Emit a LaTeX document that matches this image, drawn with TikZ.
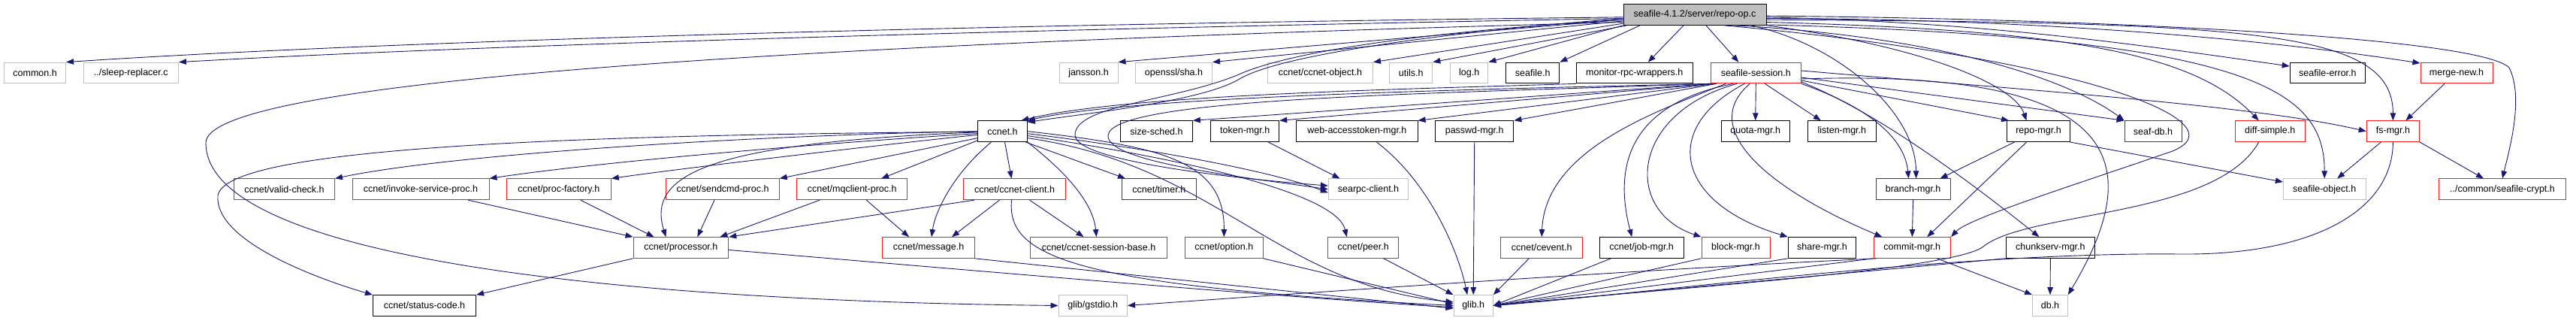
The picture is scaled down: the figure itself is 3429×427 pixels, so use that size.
\documentclass[tikz,border=0pt]{standalone}
\usepackage{fontspec}
\newfontfamily\hdrfont{Liberation Sans}
\usetikzlibrary{arrows.meta}
\definecolor{edgeblue}{HTML}{191970}
\definecolor{boxred}{HTML}{FF1A1A}
\definecolor{boxgray}{HTML}{BFBFBF}
\definecolor{titlegray}{HTML}{BFBFBF}

\begin{document}
\begin{tikzpicture}[x=1pt, y=-1pt,
  hdr/.style={draw, line width=1pt, minimum height=27.7pt, inner xsep=2pt, inner ysep=0pt,
    font={\hdrfont\fontsize{12.5}{14}\selectfont}},
  redhdr/.style={hdr, draw=boxred},
  grayhdr/.style={hdr, draw=boxgray},
  blackhdr/.style={hdr, draw=black},
  darkhdr/.style={hdr, draw=black!75},
  dep/.style={draw=edgeblue, line width=0.9pt, -{Triangle[length=10pt,width=7.5pt]}}]

\useasboundingbox (0,0) rectangle (3429,427);

% row 0
\node[blackhdr, fill=titlegray, minimum width=190pt] (repoop) at (2256,19.5) {seafile-4.1.2/server/repo-op.c};

% row 1
\node[grayhdr, minimum width=82pt] (common) at (46.6,97) {common.h};
\node[grayhdr, minimum width=126.5pt] (sleeprep) at (174.3,97) {../sleep-replacer.c};
\node[grayhdr, minimum width=78pt] (jansson) at (1449,97) {jansson.h};
\node[grayhdr, minimum width=102pt] (sha) at (1562.5,97) {openssl/sha.h};
\node[grayhdr, minimum width=140pt] (ccnetobj) at (1757.5,97) {ccnet/ccnet-object.h};
\node[grayhdr, minimum width=57pt] (utils) at (1878.3,97) {utils.h};
\node[grayhdr, minimum width=50.5pt] (logh) at (1955.7,97) {log.h};
\node[blackhdr, minimum width=71.3pt] (seafileh) at (2040.2,97) {seafile.h};
\node[blackhdr, minimum width=155pt] (monitor) at (2175.8,97) {monitor-rpc-wrappers.h};
\node[redhdr, minimum width=120pt] (session) at (2337.3,97) {seafile-session.h};
\node[blackhdr, minimum width=100.4pt] (seaferr) at (3098.4,97) {seafile-error.h};
\node[redhdr, minimum width=96pt] (merge) at (3270,97) {merge-new.h};

% row 2
\node[blackhdr, minimum width=65.6pt] (ccnet) at (1334.5,174.7) {ccnet.h};
\node[blackhdr, minimum width=95.6pt] (sizesched) at (1539.5,174.7) {size-sched.h};
\node[blackhdr, minimum width=91pt] (token) at (1657.2,174.7) {token-mgr.h};
\node[blackhdr, minimum width=161.3pt] (webtoken) at (1806.4,174.7) {web-accesstoken-mgr.h};
\node[blackhdr, minimum width=104.3pt] (passwd) at (1962.7,174.7) {passwd-mgr.h};
\node[blackhdr, minimum width=91.3pt] (quota) at (2336.7,174.7) {quota-mgr.h};
\node[blackhdr, minimum width=91pt] (listen) at (2451.8,174.7) {listen-mgr.h};
\node[blackhdr, minimum width=83.3pt] (repomgr) at (2713.5,174.7) {repo-mgr.h};
\node[darkhdr, minimum width=76pt] (seafdb) at (2866,174.7) {seaf-db.h};
\node[redhdr, minimum width=92.7pt] (diff) at (3021.7,174.7) {diff-simple.h};
\node[redhdr, minimum width=70.3pt] (fsmgr) at (3185.4,174.7) {fs-mgr.h};

% row 3
\node[redhdr, minimum width=134pt] (valid) at (378.5,251.8) {ccnet/valid-check.h};
\node[redhdr, minimum width=182pt] (invoke) at (560,251.8) {ccnet/invoke-service-proc.h};
\node[redhdr, minimum width=139pt] (procfac) at (743.8,251.8) {ccnet/proc-factory.h};
\node[redhdr, minimum width=150.5pt] (sendcmd) at (962,251.8) {ccnet/sendcmd-proc.h};
\node[redhdr, minimum width=147.2pt] (mqclient) at (1134.2,251.8) {ccnet/mqclient-proc.h};
\node[redhdr, minimum width=135.5pt] (client) at (1350.5,251.8) {ccnet/ccnet-client.h};
\node[darkhdr, minimum width=98.7pt] (timer) at (1542.8,251.8) {ccnet/timer.h};
\node[grayhdr, minimum width=106.3pt] (searpc) at (1821.5,251.8) {searpc-client.h};
\node[darkhdr, minimum width=99pt] (branch) at (2546.6,251.8) {branch-mgr.h};
\node[grayhdr, minimum width=109.7pt] (seafobj) at (3094.2,251.8) {seafile-object.h};
\node[redhdr, minimum width=169.4pt] (crypt) at (3331,251.8) {../common/seafile-crypt.h};

% row 4
\node[redhdr, minimum width=126.7pt] (processor) at (906.4,329.5) {ccnet/processor.h};
\node[redhdr, minimum width=122.4pt] (message) at (1236,329.5) {ccnet/message.h};
\node[redhdr, minimum width=182.5pt] (sessbase) at (1462.5,329.5) {ccnet/ccnet-session-base.h};
\node[redhdr, minimum width=103.7pt] (option) at (1629.3,329.5) {ccnet/option.h};
\node[redhdr, minimum width=94pt] (peer) at (1814.7,329.5) {ccnet/peer.h};
\node[redhdr, minimum width=109pt] (cevent) at (2052.2,329.5) {ccnet/cevent.h};
\node[blackhdr, minimum width=112.4pt] (jobmgr) at (2185.2,329.5) {ccnet/job-mgr.h};
\node[redhdr, minimum width=91pt] (block) at (2310.5,329.5) {block-mgr.h};
\node[blackhdr, minimum width=90.5pt] (share) at (2425.5,329.5) {share-mgr.h};
\node[redhdr, minimum width=102.6pt] (commit) at (2545.3,329.5) {commit-mgr.h};
\node[blackhdr, minimum width=118.7pt] (chunk) at (2729.4,329.5) {chunkserv-mgr.h};

% row 5
\node[blackhdr, minimum width=137.2pt] (status) at (565,406.5) {ccnet/status-code.h};
\node[grayhdr, minimum width=91.5pt] (gstdio) at (1454.8,406.5) {glib/gstdio.h};
\node[grayhdr, minimum width=52.3pt] (glib) at (1961.2,406.5) {glib.h};
\node[grayhdr, minimum width=46.7pt] (db) at (2729,406.5) {db.h};

% includes of repo-op.c
\draw[dep] (repoop.182) .. controls (1300,32) and (500,55) .. (common.north east);
\draw[dep] (repoop.183) .. controls (1300,40) and (600,62) .. (sleeprep.north east);
\draw[dep] (repoop.186) .. controls (1200,55) and (274,100) .. (274,190)
  .. controls (274,340) and (800,400) .. (gstdio.west);
\draw[dep] (repoop.184) -- (jansson.north east);
\draw[dep] (repoop.185) -- (sha.north east);
\draw[dep] (repoop.187) -- (ccnetobj.north east);
\draw[dep] (repoop.189) -- (utils.north east);
\draw[dep] (repoop.south west) -- (logh.north east);
\draw[dep] ([xshift=-73pt]repoop.south) -- (seafileh.north east);
\draw[dep] ([xshift=-15pt]repoop.south) -- ([xshift=18pt]monitor.north);
\draw[dep] ([xshift=15pt]repoop.south) -- ([xshift=-23pt]session.north);
\draw[dep] (repoop.183) .. controls (1900,45) and (1700,75) .. (1650,105)
  .. controls (1600,135) and (1450,150) .. (ccnet.20);
\draw[dep] (repoop.184) .. controls (1850,45) and (1700,75) .. (1647,100)
  .. controls (1560,135) and (1430,140) .. (1431,180)
  .. controls (1432,215) and (1650,238) .. (searpc.175);
\draw[dep] (repoop.358) .. controls (2650,30) and (2850,60) .. (seaferr.170);
\draw[dep] (repoop.357) .. controls (2700,25) and (3000,50) .. (merge.165);
\draw[dep] (repoop.359) .. controls (2800,25) and (3300,50) .. (3340,90)
  .. controls (3360,130) and (3340,200) .. (crypt.north);
\draw[dep] (repoop.356) .. controls (3000,30) and (3185,40) .. (fsmgr.north);
\draw[dep] (repoop.354) .. controls (2750,40) and (2920,70) .. ([xshift=-15pt]diff.north);
\draw[dep] (repoop.352) .. controls (3000,50) and (3094,120) .. (seafobj.north);
\draw[dep] (repoop.345) .. controls (2600,50) and (2760,110) .. (seafdb.north west);
\draw[dep] (repoop.south east) .. controls (2550,60) and (2680,110) .. ([xshift=-16pt]repomgr.north);
\draw[dep] ([xshift=75pt]repoop.south) .. controls (2450,60) and (2550,150) .. ([xshift=4pt]branch.north);
\draw[dep] (repoop.340) .. controls (2800,80) and (3000,170) .. (2880,205)
  .. controls (2780,240) and (2620,290) .. (commit.north east);

% includes of seafile-session.h
\draw[dep] (session.south west) .. controls (1900,120) and (1500,130) .. (ccnet.north east);
\draw[dep] ([xshift=2pt]session.south west) -- (sizesched.north east);
\draw[dep] ([xshift=4pt]session.south west) -- (token.north east);
\draw[dep] ([xshift=6pt]session.south west) -- (webtoken.north east);
\draw[dep] ([xshift=8pt]session.south west) -- (passwd.north east);
\draw[dep] (session.south west) .. controls (1900,125) and (1480,130) .. (1475,180)
  .. controls (1472,215) and (1650,235) .. (searpc.west);
\draw[dep] ([xshift=-40pt]session.south) .. controls (2200,150) and (2057,200) .. (cevent.north);
\draw[dep] ([xshift=-30pt]session.south) .. controls (2160,140) and (2150,230) .. ([xshift=-13pt]jobmgr.north);
\draw[dep] ([xshift=-25pt]session.south) .. controls (2170,150) and (2160,280) .. (block.north west);
\draw[dep] ([xshift=-15pt]session.south) .. controls (2210,170) and (2230,270) .. (share.north west);
\draw[dep] ([xshift=-8pt]session.south) .. controls (2260,170) and (2350,250) .. ([xshift=-40pt]commit.north);
\draw[dep] (session.south) -- (quota.north);
\draw[dep] ([xshift=12pt]session.south) -- ([xshift=-28pt]listen.north);
\draw[dep] (session.south east) .. controls (2480,140) and (2535,180) .. ([xshift=-6pt]branch.north);
\draw[dep] ([yshift=-10pt]session.east) -- (repomgr.160);
\draw[dep] ([yshift=-6pt]session.east) -- (seafdb.north west);
\draw[dep] ([yshift=3pt]session.east) .. controls (2700,120) and (3000,140) .. (fsmgr.west);
\draw[dep] ([yshift=-12pt]session.east) .. controls (2500,150) and (2620,240) .. ([xshift=-15pt]chunk.north);
\draw[dep] ([yshift=-8pt]session.east) .. controls (2850,90) and (2850,230) .. (db.north east);

% monitor-rpc-wrappers.h
\draw[dep] (monitor.south west) .. controls (1900,118) and (1500,125) .. (ccnet.30);

% includes of ccnet.h
\draw[dep] (ccnet.west) .. controls (1000,180) and (600,205) .. (valid.north east);
\draw[dep] (ccnet.185) .. controls (1100,190) and (800,215) .. (invoke.north east);
\draw[dep] (ccnet.188) .. controls (1150,195) and (900,225) .. (procfac.north east);
\draw[dep] (ccnet.182) .. controls (950,190) and (860,230) .. ([xshift=-20pt]processor.north);
\draw[dep] (ccnet.181) .. controls (700,180) and (300,200) .. (290,260)
  .. controls (285,320) and (420,370) .. (status.north west);
\draw[dep] (ccnet.195) -- (sendcmd.north east);
\draw[dep] (ccnet.200) -- ([xshift=39pt]mqclient.north);
\draw[dep] ([xshift=-15pt]ccnet.south) .. controls (1270,230) and (1245,280) .. ([xshift=4pt]message.north);
\draw[dep] ([xshift=3pt]ccnet.south) -- ([xshift=-4pt]client.north);
\draw[dep] (ccnet.south east) .. controls (1420,230) and (1455,270) .. ([xshift=-3pt]sessbase.north);
\draw[dep] (ccnet.335) -- ([xshift=5pt]timer.north west);
\draw[dep] ([yshift=-3pt]ccnet.east) .. controls (1550,200) and (1700,230) .. (searpc.185);
\draw[dep] (ccnet.east) .. controls (1550,195) and (1630,215) .. (option.north);
\draw[dep] (ccnet.350) .. controls (1600,215) and (1780,260) .. ([xshift=-22pt]peer.north);
\draw[dep] (ccnet.345) .. controls (1620,220) and (1700,380) .. (glib.170);

% ccnet sub-headers
\draw[dep] ([xshift=63pt]invoke.south) -- (processor.north west);
\draw[dep] ([xshift=29pt]procfac.south) -- ([xshift=-36pt]processor.north);
\draw[dep] ([xshift=-11pt]sendcmd.south) -- ([xshift=22pt]processor.north);
\draw[dep] ([xshift=-43pt]mqclient.south) -- ([xshift=52pt]processor.north);
\draw[dep] ([xshift=19pt]mqclient.south) -- ([xshift=-26pt]message.north);
\draw[dep] (client.195) -- (processor.north east);
\draw[dep] ([xshift=-20pt]client.south) -- ([xshift=31pt]message.north);
\draw[dep] ([xshift=20pt]client.south) -- ([xshift=-20pt]sessbase.north);
\draw[dep] ([xshift=-4pt]client.south) .. controls (1340,340) and (1420,380) .. (glib.west);
\draw[dep] (processor.south west) -- (status.north east);
\draw[dep] ([yshift=-3pt]processor.east) .. controls (1300,360) and (1700,395) .. (glib.185);
\draw[dep] (message.south east) -- (glib.188);
\draw[dep] (option.south east) -- (glib.175);
\draw[dep] ([xshift=27pt]peer.south) -- (glib.north west);
\draw[dep] ([xshift=-17pt]cevent.south) -- (glib.north east);

% seafile managers
\draw[dep] ([xshift=26pt]webtoken.south) .. controls (1900,240) and (1940,330) .. ([xshift=-8pt]glib.north);
\draw[dep] (passwd.south) -- (glib.north);
\draw[dep] ([xshift=-15pt]token.south east) -- ([xshift=-38pt]searpc.north);
\draw[dep] ([xshift=-32pt]repomgr.south) -- ([xshift=-14pt]branch.north east);
\draw[dep] ([xshift=-16pt]repomgr.south) -- ([xshift=20pt]commit.north);
\draw[dep] (repomgr.south east) -- (seafobj.170);
\draw[dep] (branch.south) -- (commit.north);
\draw[dep] ([xshift=33pt]commit.south) -- (db.north west);
\draw[dep] (chunk.south) -- (db.north);
\draw[dep] ([xshift=4pt]commit.south west) .. controls (2200,358) and (1800,385) .. (gstdio.east);
\draw[dep] (commit.south west) -- (glib.east);
\draw[dep] (chunk.south west) -- (glib.east);
\draw[dep] ([xshift=-41pt]jobmgr.south) -- (glib.east);
\draw[dep] (block.south west) -- (glib.east);
\draw[dep] (share.south west) -- (glib.east);
\draw[dep] ([xshift=-15pt]diff.south) .. controls (2950,290) and (2700,280) .. (2640,328)
  .. controls (2600,360) and (2200,385) .. (glib.east);
\draw[dep] (fsmgr.south) .. controls (3185,280) and (3080,340) .. (2900,338)
  .. controls (2600,335) and (2200,390) .. (glib.east);
\draw[dep] ([xshift=-16pt]fsmgr.south) -- ([xshift=17pt]seafobj.north);
\draw[dep] (fsmgr.south east) -- ([xshift=-25pt]crypt.north);
\draw[dep] ([xshift=-16pt]merge.south) -- ([xshift=17pt]fsmgr.north);

\end{tikzpicture}
\end{document}
